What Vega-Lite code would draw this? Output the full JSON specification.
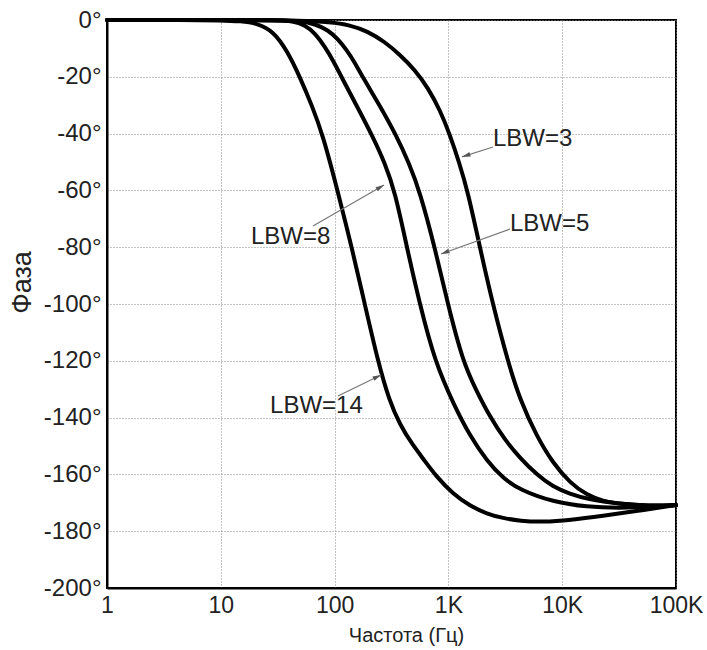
{
  "$schema": "https://vega.github.io/schema/vega-lite/v6.json",
  "width": 569,
  "height": 568,
  "autosize": "none",
  "padding": {"left": 107, "top": 20, "right": 31, "bottom": 62},
  "background": "white",
  "datasets": {
    "curves": [
      {"c": "LBW=14", "f": 1, "p": 0}, {"c": "LBW=14", "f": 5, "p": 0}, {"c": "LBW=14", "f": 10, "p": -0.1},
      {"c": "LBW=14", "f": 15, "p": -0.4}, {"c": "LBW=14", "f": 21, "p": -1.2}, {"c": "LBW=14", "f": 29, "p": -4},
      {"c": "LBW=14", "f": 38, "p": -10.6}, {"c": "LBW=14", "f": 50, "p": -20.4}, {"c": "LBW=14", "f": 63, "p": -30},
      {"c": "LBW=14", "f": 79, "p": -40.5}, {"c": "LBW=14", "f": 107, "p": -60.6}, {"c": "LBW=14", "f": 142, "p": -80.3},
      {"c": "LBW=14", "f": 185, "p": -100.4}, {"c": "LBW=14", "f": 241, "p": -120.4}, {"c": "LBW=14", "f": 301, "p": -133.8},
      {"c": "LBW=14", "f": 376, "p": -142.6}, {"c": "LBW=14", "f": 479, "p": -149.3}, {"c": "LBW=14", "f": 611, "p": -154.9},
      {"c": "LBW=14", "f": 778, "p": -160.6}, {"c": "LBW=14", "f": 1097, "p": -166.9}, {"c": "LBW=14", "f": 1549, "p": -171.1},
      {"c": "LBW=14", "f": 2183, "p": -173.9}, {"c": "LBW=14", "f": 3020, "p": -175.4}, {"c": "LBW=14", "f": 4260, "p": -176.4},
      {"c": "LBW=14", "f": 6780, "p": -176.8}, {"c": "LBW=14", "f": 11700, "p": -176.1}, {"c": "LBW=14", "f": 22800, "p": -174.6},
      {"c": "LBW=14", "f": 45400, "p": -172.9}, {"c": "LBW=14", "f": 100000, "p": -170.8},

      {"c": "LBW=8", "f": 1, "p": 0}, {"c": "LBW=8", "f": 15, "p": 0}, {"c": "LBW=8", "f": 30, "p": -0.1},
      {"c": "LBW=8", "f": 43, "p": -0.35}, {"c": "LBW=8", "f": 55, "p": -1.8}, {"c": "LBW=8", "f": 67.3, "p": -4.6},
      {"c": "LBW=8", "f": 82.4, "p": -9.5}, {"c": "LBW=8", "f": 98.8, "p": -14.8}, {"c": "LBW=8", "f": 116, "p": -20.4},
      {"c": "LBW=8", "f": 157, "p": -30.3}, {"c": "LBW=8", "f": 213, "p": -40.5}, {"c": "LBW=8", "f": 277, "p": -50.4},
      {"c": "LBW=8", "f": 340, "p": -60.6}, {"c": "LBW=8", "f": 433, "p": -80.3}, {"c": "LBW=8", "f": 563, "p": -100.4},
      {"c": "LBW=8", "f": 762, "p": -120.4}, {"c": "LBW=8", "f": 1120, "p": -135.6}, {"c": "LBW=8", "f": 1549, "p": -146.5},
      {"c": "LBW=8", "f": 2183, "p": -155.3}, {"c": "LBW=8", "f": 3020, "p": -161.3}, {"c": "LBW=8", "f": 4260, "p": -165.5},
      {"c": "LBW=8", "f": 8300, "p": -169.7}, {"c": "LBW=8", "f": 16500, "p": -171.5}, {"c": "LBW=8", "f": 32200, "p": -171.8},
      {"c": "LBW=8", "f": 59100, "p": -171.5}, {"c": "LBW=8", "f": 100000, "p": -170.8},

      {"c": "LBW=5", "f": 1, "p": 0}, {"c": "LBW=5", "f": 20, "p": 0}, {"c": "LBW=5", "f": 35, "p": -0.1},
      {"c": "LBW=5", "f": 49.7, "p": -0.35}, {"c": "LBW=5", "f": 67.3, "p": -1.4}, {"c": "LBW=5", "f": 87.5, "p": -3.5},
      {"c": "LBW=5", "f": 107, "p": -6.7}, {"c": "LBW=5", "f": 128, "p": -10.6}, {"c": "LBW=5", "f": 151, "p": -15.1},
      {"c": "LBW=5", "f": 178, "p": -20.4}, {"c": "LBW=5", "f": 251, "p": -30.3}, {"c": "LBW=5", "f": 347, "p": -40.5},
      {"c": "LBW=5", "f": 451, "p": -50.4}, {"c": "LBW=5", "f": 563, "p": -60.6}, {"c": "LBW=5", "f": 762, "p": -80.3},
      {"c": "LBW=5", "f": 992, "p": -100.4}, {"c": "LBW=5", "f": 1343, "p": -120.4}, {"c": "LBW=5", "f": 1749, "p": -130.3},
      {"c": "LBW=5", "f": 2321, "p": -139.8}, {"c": "LBW=5", "f": 3140, "p": -147.9}, {"c": "LBW=5", "f": 4260, "p": -154.2},
      {"c": "LBW=5", "f": 6010, "p": -160.2}, {"c": "LBW=5", "f": 8300, "p": -164.4}, {"c": "LBW=5", "f": 11700, "p": -166.9},
      {"c": "LBW=5", "f": 16500, "p": -168.7}, {"c": "LBW=5", "f": 32200, "p": -170.4}, {"c": "LBW=5", "f": 59100, "p": -171.1},
      {"c": "LBW=5", "f": 100000, "p": -170.8},

      {"c": "LBW=3", "f": 1, "p": 0}, {"c": "LBW=3", "f": 20, "p": 0}, {"c": "LBW=3", "f": 50, "p": -0.2},
      {"c": "LBW=3", "f": 91, "p": -0.7}, {"c": "LBW=3", "f": 137, "p": -1.8}, {"c": "LBW=3", "f": 193, "p": -3.9},
      {"c": "LBW=3", "f": 277, "p": -7.7}, {"c": "LBW=3", "f": 376, "p": -12.3}, {"c": "LBW=3", "f": 509, "p": -17.6},
      {"c": "LBW=3", "f": 662, "p": -23.9}, {"c": "LBW=3", "f": 844, "p": -31.7}, {"c": "LBW=3", "f": 1033, "p": -40.5},
      {"c": "LBW=3", "f": 1239, "p": -50}, {"c": "LBW=3", "f": 1487, "p": -60.6}, {"c": "LBW=3", "f": 1897, "p": -80.3},
      {"c": "LBW=3", "f": 2465, "p": -100.4}, {"c": "LBW=3", "f": 3340, "p": -120.4}, {"c": "LBW=3", "f": 4260, "p": -133.8},
      {"c": "LBW=3", "f": 6010, "p": -146.8}, {"c": "LBW=3", "f": 8300, "p": -156}, {"c": "LBW=3", "f": 11700, "p": -163},
      {"c": "LBW=3", "f": 16500, "p": -167.3}, {"c": "LBW=3", "f": 22800, "p": -169.4}, {"c": "LBW=3", "f": 32200, "p": -170.4},
      {"c": "LBW=3", "f": 55600, "p": -171.1}, {"c": "LBW=3", "f": 100000, "p": -170.8}
    ],
    "notes": [
      {"label": "LBW=3", "tf": 2466, "tp": -41.9, "af": 2466, "ap": -44.7, "hf": 1316, "hp": -48.2},
      {"label": "LBW=5", "tf": 3478, "tp": -71.8, "af": 3478, "ap": -73.6, "hf": 861, "hp": -82.4},
      {"label": "LBW=8", "tf": 18.4, "tp": -76.4, "af": 64.6, "ap": -72.5, "hf": 272, "hp": -58.1},
      {"label": "LBW=14", "tf": 27.1, "tp": -135.9, "af": 107, "ap": -132.4, "hf": 256, "hp": -125}
    ]
  },
  "layer": [
    {
      "data": {"name": "curves"},
      "mark": {"type": "line", "color": "#000", "strokeWidth": 4, "interpolate": "basis", "strokeCap": "round", "strokeJoin": "round"},
      "encoding": {
        "x": {
          "field": "f", "type": "quantitative",
          "scale": {"type": "log", "domain": [1, 100000], "nice": false},
          "title": "Частота (Гц)",
          "axis": {
            "values": [1, 10, 100, 1000, 10000, 100000],
            "labelExpr": "datum.value >= 1000 ? (datum.value / 1000) + 'K' : '' + datum.value",
            "labelFontSize": 23, "labelPadding": 6, "labelOverlap": false, "labelFlush": false,
            "titleFontSize": 20, "titleX": 299, "titleY": 47, "titleBaseline": "middle", "titleAlign": "center"
          }
        },
        "y": {
          "field": "p", "type": "quantitative",
          "scale": {"domain": [-200, 0], "nice": false},
          "title": "Фаза",
          "axis": {
            "values": [0, -20, -40, -60, -80, -100, -120, -140, -160, -180, -200],
            "labelExpr": "datum.value + '°'",
            "labelFontSize": 24, "labelPadding": 6, "labelOverlap": false, "labelFlush": false,
            "titleFontSize": 27, "titleX": -85, "titleY": 262, "titleBaseline": "middle", "titleAlign": "center", "titleAngle": -90
          }
        },
        "detail": {"field": "c"}
      }
    },
    {
      "data": {"name": "notes"},
      "mark": {"type": "rule", "color": "#777", "strokeWidth": 1.2},
      "encoding": {
        "x": {"field": "af", "type": "quantitative", "title": "Частота (Гц)"},
        "y": {"field": "ap", "type": "quantitative", "title": "Фаза"},
        "x2": {"field": "hf"},
        "y2": {"field": "hp"}
      }
    },
    {
      "data": {"name": "notes"},
      "transform": [{"filter": "datum.label == 'LBW=3'"}],
      "mark": {"type": "point", "shape": "M0,0L-0.28,1L0.28,1Z", "size": 289, "filled": true, "color": "#555", "opacity": 1, "strokeWidth": 0, "angle": 252},
      "encoding": {
        "x": {"field": "hf", "type": "quantitative", "title": "Частота (Гц)"},
        "y": {"field": "hp", "type": "quantitative", "title": "Фаза"}
      }
    },
    {
      "data": {"name": "notes"},
      "transform": [{"filter": "datum.label == 'LBW=5'"}],
      "mark": {"type": "point", "shape": "M0,0L-0.28,1L0.28,1Z", "size": 289, "filled": true, "color": "#555", "opacity": 1, "strokeWidth": 0, "angle": 250},
      "encoding": {
        "x": {"field": "hf", "type": "quantitative", "title": "Частота (Гц)"},
        "y": {"field": "hp", "type": "quantitative", "title": "Фаза"}
      }
    },
    {
      "data": {"name": "notes"},
      "transform": [{"filter": "datum.label == 'LBW=8'"}],
      "mark": {"type": "point", "shape": "M0,0L-0.28,1L0.28,1Z", "size": 289, "filled": true, "color": "#555", "opacity": 1, "strokeWidth": 0, "angle": 60},
      "encoding": {
        "x": {"field": "hf", "type": "quantitative", "title": "Частота (Гц)"},
        "y": {"field": "hp", "type": "quantitative", "title": "Фаза"}
      }
    },
    {
      "data": {"name": "notes"},
      "transform": [{"filter": "datum.label == 'LBW=14'"}],
      "mark": {"type": "point", "shape": "M0,0L-0.28,1L0.28,1Z", "size": 289, "filled": true, "color": "#555", "opacity": 1, "strokeWidth": 0, "angle": 64},
      "encoding": {
        "x": {"field": "hf", "type": "quantitative", "title": "Частота (Гц)"},
        "y": {"field": "hp", "type": "quantitative", "title": "Фаза"}
      }
    },
    {
      "data": {"name": "notes"},
      "mark": {"type": "text", "align": "left", "baseline": "middle", "fontSize": 24, "font": "Liberation Sans", "color": "#222"},
      "encoding": {
        "x": {"field": "tf", "type": "quantitative", "title": "Частота (Гц)"},
        "y": {"field": "tp", "type": "quantitative", "title": "Фаза"},
        "text": {"field": "label"}
      }
    }
  ],
  "config": {
    "view": {"stroke": "#000", "strokeWidth": 2},
    "axis": {
      "domainColor": "#000", "domainWidth": 2, "ticks": false,
      "grid": true, "gridColor": "#888", "gridDash": [1, 2], "gridWidth": 1,
      "labelFont": "Liberation Sans", "labelColor": "#222",
      "titleFont": "Liberation Sans", "titleColor": "#222", "titleFontWeight": "normal"
    }
  }
}
